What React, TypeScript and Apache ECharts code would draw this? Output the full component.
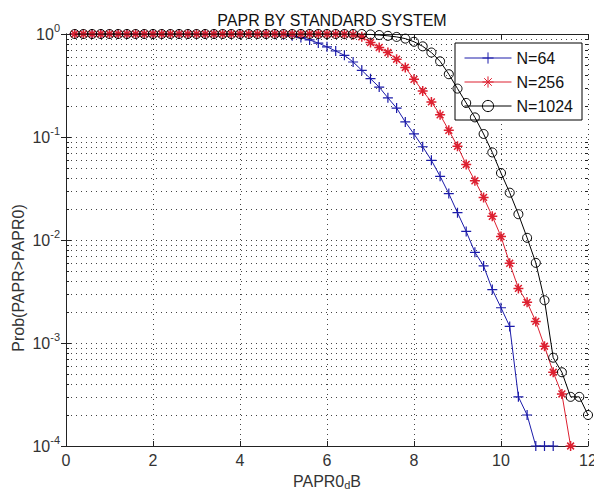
import React, { useEffect, useRef } from "react";
import * as echarts from "echarts";

// PAPR0 (dB) sample points
const XS = [
  0.2, 0.4, 0.6, 0.8, 1.0, 1.2, 1.4, 1.6, 1.8, 2.0,
  2.2, 2.4, 2.6, 2.8, 3.0, 3.2, 3.4, 3.6, 3.8, 4.0,
  4.2, 4.4, 4.6, 4.8, 5.0, 5.2, 5.4, 5.6, 5.8, 6.0,
  6.2, 6.4, 6.6, 6.8, 7.0, 7.2, 7.4, 7.6, 7.8, 8.0,
  8.2, 8.4, 8.6, 8.8, 9.0, 9.2, 9.4, 9.6, 9.8, 10.0,
  10.2, 10.4, 10.6, 10.8, 11.0, 11.2, 11.4, 11.6, 11.8, 12.0,
];

const N64 = [
  1, 1, 1, 1, 1, 1, 1, 1, 1, 1,
  1, 1, 1, 1, 1, 1, 1, 1, 1, 1,
  1, 1, 1, 0.995, 0.982, 0.959, 0.923, 0.875, 0.817, 0.75,
  0.684, 0.621, 0.535, 0.444, 0.368, 0.305, 0.24, 0.191, 0.14, 0.107,
  0.0804, 0.0594, 0.0415, 0.0282, 0.0184, 0.0121, 0.0076, 0.0056, 0.0033, 0.0022,
  0.00145, 0.0003, 0.0002, 0.0001, 0.0001, 0.0001,
];

const N256 = [
  1, 1, 1, 1, 1, 1, 1, 1, 1, 1,
  1, 1, 1, 1, 1, 1, 1, 1, 1, 1,
  1, 1, 1, 1, 1, 1, 1, 1, 1, 0.999,
  0.998, 0.995, 0.985, 0.94, 0.826, 0.74, 0.661, 0.569, 0.473, 0.363,
  0.28, 0.219, 0.164, 0.116, 0.0813, 0.0541, 0.0376, 0.0259, 0.017, 0.0108,
  0.00594, 0.00339, 0.00248, 0.00162, 0.00093, 0.00052, 0.00032, 0.0001,
];

const N1024 = [
  1, 1, 1, 1, 1, 1, 1, 1, 1, 1,
  1, 1, 1, 1, 1, 1, 1, 1, 1, 1,
  1, 1, 1, 1, 1, 1, 1, 1, 1, 1,
  1, 1, 1, 1, 0.99, 0.977, 0.96, 0.937, 0.902, 0.841,
  0.759, 0.661, 0.543, 0.407, 0.295, 0.214, 0.155, 0.107, 0.0708, 0.0447,
  0.0288, 0.0178, 0.0105, 0.006, 0.0026, 0.00072, 0.00052, 0.0003, 0.0003, 0.0002,
];

const MINOR_Y = [
  2e-4, 3e-4, 4e-4, 5e-4, 6e-4, 7e-4, 8e-4, 9e-4,
  2e-3, 3e-3, 4e-3, 5e-3, 6e-3, 7e-3, 8e-3, 9e-3,
  2e-2, 3e-2, 4e-2, 5e-2, 6e-2, 7e-2, 8e-2, 9e-2,
  2e-1, 3e-1, 4e-1, 5e-1, 6e-1, 7e-1, 8e-1, 9e-1,
];

const SERIES_NAMES = ["N=64", "N=256", "N=1024"];
const TITLE = "PAPR BY STANDARD SYSTEM";
const Y_NAME = "Prob(PAPR>PAPR0)";
const X_MIN = 0;
const X_MAX = 12;

const FONT = "'Liberation Sans', Arial, sans-serif";
const PLUS = "path://M5,0L5,10M0,5L10,5";
const STAR = "path://M5,0L5,10M0,5L10,5M1.6,1.6L8.4,8.4M1.6,8.4L8.4,1.6";

const pairs = (ys: number[]) => ys.map((y, i) => [XS[i], y]);

export default function App() {
  const ref = useRef<HTMLDivElement>(null);
  useEffect(() => {
    if (!ref.current) return;
    const chart = echarts.init(ref.current, undefined, { renderer: "svg" });
    const axisColor = "#222";
    const dotColor = "#444";
    const gridLine = { color: dotColor, width: 1, type: [1, 4] as any };
    const option: any = {
      animation: false,
      backgroundColor: "#fff",
      textStyle: { fontFamily: FONT },
      title: {
        text: TITLE,
        left: 327,
        top: 7,
        textAlign: "center",
        textStyle: { fontSize: 16, fontWeight: "normal", color: "#111", fontFamily: FONT },
      },
      graphic: [
        {
          type: "text",
          x: 18,
          y: 278,
          rotation: Math.PI / 2,
          silent: true,
          style: {
            text: Y_NAME,
            fontSize: 16,
            fontFamily: FONT,
            fill: "#333",
            textAlign: "center",
            textVerticalAlign: "middle",
          },
        },
      ],
      legend: {
        data: SERIES_NAMES,
        orient: "vertical",
        right: 12,
        top: 43,
        itemWidth: 47,
        itemHeight: 14,
        itemGap: 8,
        padding: [7, 9, 6, 9],
        borderColor: "#000",
        borderWidth: 1,
        borderRadius: 0,
        backgroundColor: "#fff",
        lineStyle: { width: 1 },
        itemStyle: { borderWidth: 1 },
        textStyle: { fontSize: 16, color: "#111", fontFamily: FONT },
      },
      grid: { left: 66, right: 6, top: 34, bottom: 45, outerBoundsMode: "none", containLabel: false },
      xAxis: [
        {
          type: "value",
          min: X_MIN,
          max: X_MAX,
          interval: 2,
          position: "bottom",
          axisLine: { lineStyle: { color: axisColor } },
          axisTick: { inside: true, length: 5, lineStyle: { color: axisColor } },
          axisLabel: { fontSize: 16, color: "#333", margin: 6, fontFamily: FONT },
          splitLine: { show: true, lineStyle: gridLine },
          name: "PAPR0{s|d}B",
          nameLocation: "middle",
          nameGap: 25,
          nameTextStyle: {
            fontSize: 16,
            lineHeight: 16,
            color: "#333",
            fontFamily: FONT,
            rich: { s: { fontSize: 11, lineHeight: 11, color: "#333", padding: [7, 0, 0, 0], fontFamily: FONT } },
          },
        },
        {
          type: "value",
          min: X_MIN,
          max: X_MAX,
          interval: 2,
          position: "top",
          axisLine: { lineStyle: { color: axisColor } },
          axisTick: { inside: true, length: 5, lineStyle: { color: axisColor } },
          axisLabel: { show: false },
          splitLine: { show: false },
        },
      ],
      yAxis: [
        {
          type: "log",
          logBase: 10,
          min: 1e-4,
          max: 1,
          position: "left",
          axisLine: { lineStyle: { color: axisColor } },
          axisTick: { inside: true, length: 5, lineStyle: { color: axisColor } },
          axisLabel: {
            margin: 6,
            formatter: (v: number) => `{b|10}{e|${Math.round(Math.log10(v))}}`,
            rich: {
              b: { fontSize: 16, color: "#333", fontFamily: FONT },
              e: { fontSize: 11, color: "#333", padding: [0, 0, 12, 0], fontFamily: FONT },
            },
          },
          splitLine: { show: true, lineStyle: gridLine },
        },
        {
          type: "log",
          logBase: 10,
          min: 1e-4,
          max: 1,
          position: "right",
          axisLine: { lineStyle: { color: axisColor } },
          axisTick: { inside: true, length: 5, lineStyle: { color: axisColor } },
          axisLabel: { show: false },
          splitLine: { show: false },
        },
      ],
      series: [
        {
          type: "custom",
          name: "minor",
          xAxisIndex: 0,
          yAxisIndex: 0,
          z: 1,
          silent: true,
          data: MINOR_Y.map((v) => [X_MIN, v]),
          renderItem: (params: any, api: any) => {
            const v = api.value(1);
            const p0 = api.coord([X_MIN, v]);
            const p1 = api.coord([X_MAX, v]);
            const y = Math.round(p0[1]) + 0.5;
            return {
              type: "group",
              children: [
                {
                  type: "line",
                  shape: { x1: p0[0], y1: y, x2: p1[0], y2: y },
                  style: { stroke: dotColor, lineWidth: 1, lineDash: [1, 4] },
                },
                {
                  type: "line",
                  shape: { x1: p0[0], y1: y, x2: p0[0] + 3, y2: y },
                  style: { stroke: axisColor, lineWidth: 1 },
                },
                {
                  type: "line",
                  shape: { x1: p1[0] - 3, y1: y, x2: p1[0], y2: y },
                  style: { stroke: axisColor, lineWidth: 1 },
                },
              ],
            };
          },
        },
        {
          type: "line",
          name: SERIES_NAMES[0],
          data: pairs(N64),
          symbol: PLUS,
          symbolSize: 10,
          showAllSymbol: true,
          z: 3,
          lineStyle: { color: "#1c1caa", width: 1 },
          itemStyle: { color: "#1c1caa", borderColor: "#1c1caa", borderWidth: 1.2 },
        },
        {
          type: "line",
          name: SERIES_NAMES[1],
          data: pairs(N256),
          symbol: STAR,
          symbolSize: 10,
          showAllSymbol: true,
          z: 4,
          lineStyle: { color: "#dd2030", width: 1 },
          itemStyle: { color: "#dd2030", borderColor: "#dd2030", borderWidth: 1.5 },
        },
        {
          type: "line",
          name: SERIES_NAMES[2],
          data: pairs(N1024),
          symbol: "circle",
          symbolSize: 9,
          showAllSymbol: true,
          z: 5,
          lineStyle: { color: "#000", width: 1 },
          itemStyle: { color: "rgba(0,0,0,0)", borderColor: "#000", borderWidth: 1 },
        },
      ],
    };
    chart.setOption(option);
    return () => chart.dispose();
  }, []);
  return (
    <div
      ref={ref}
      style={{ position: "fixed", left: 0, top: 0, width: 594, height: 491, background: "#fff" }}
    />
  );
}
